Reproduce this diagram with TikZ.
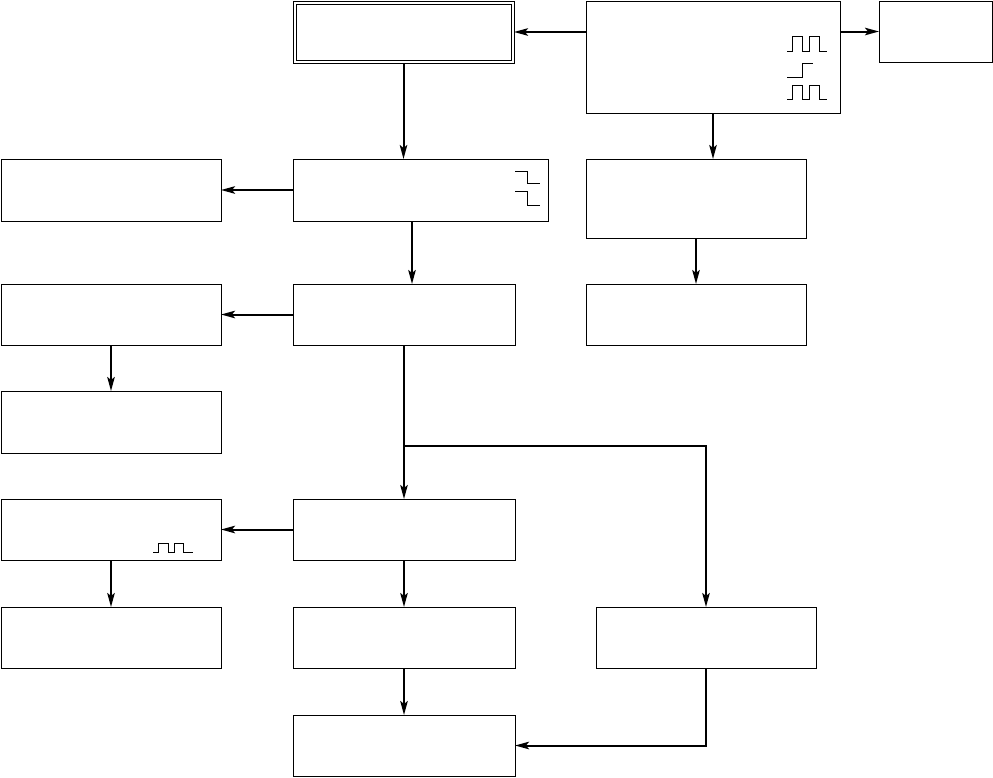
\documentclass[tikz,border=0pt]{standalone}
\usetikzlibrary{arrows.meta}
\begin{document}
\begin{tikzpicture}[x=1pt,y=-1pt,
  box/.style={draw,line width=1pt,inner sep=0pt,outer sep=0pt},
  conn/.style={line width=2pt,-{Stealth[length=14pt,width=7.5pt,inset=3pt]}},
  wave/.style={line width=1pt,line join=miter}]
\useasboundingbox (0,0) rectangle (993,777);
% boxes
\node[box,minimum width=221pt,minimum height=62pt] (T) at (403.5,32) {};
\draw[line width=1pt] ([shift={(3,3)}]T.north west) rectangle ([shift={(-3,-3)}]T.south east);
\node[box,minimum width=254pt,minimum height=112pt] (TR) at (713,57) {};
\node[box,minimum width=113pt,minimum height=61pt] (FR) at (935.5,31.5) {};
\node[box,minimum width=220pt,minimum height=62pt] (L2) at (111,190) {};
\node[box,minimum width=255pt,minimum height=62pt] (M2) at (420.5,190) {};
\node[box,minimum width=220pt,minimum height=79pt] (R2) at (696,198.5) {};
\node[box,minimum width=220pt,minimum height=61pt] (R3) at (696,314.5) {};
\node[box,minimum width=220pt,minimum height=61pt] (L3) at (111,314.5) {};
\node[box,minimum width=222pt,minimum height=61pt] (M3) at (404,314.5) {};
\node[box,minimum width=220pt,minimum height=62pt] (L4) at (111,422) {};
\node[box,minimum width=220pt,minimum height=61pt] (L5) at (111,529.5) {};
\node[box,minimum width=222pt,minimum height=61pt] (M5) at (404,529.5) {};
\node[box,minimum width=220pt,minimum height=61pt] (L6) at (111,637.5) {};
\node[box,minimum width=222pt,minimum height=61pt] (M6) at (404,637.5) {};
\node[box,minimum width=220pt,minimum height=61pt] (R6) at (706,637.5) {};
\node[box,minimum width=222pt,minimum height=61pt] (M7) at (404,745.5) {};
% waveforms
\draw[wave] (787,51) -- (792,51) -- (792,36) -- (802,36) -- (802,51) -- (809,51) -- (809,36) -- (819,36) -- (819,51) -- (827,51);
\draw[wave] (787,77) -- (802,77) -- (802,63) -- (813,63);
\draw[wave] (787,99) -- (792,99) -- (792,85) -- (802,85) -- (802,99) -- (809,99) -- (809,85) -- (819,85) -- (819,99) -- (827,99);
\draw[wave] (515,171) -- (527,171) -- (527,183) -- (540,183);
\draw[wave] (515,191) -- (527,191) -- (527,205) -- (540,205);
\draw[wave] (153,552) -- (158,552) -- (158,543) -- (168,543) -- (168,552) -- (174,552) -- (174,543) -- (183,543) -- (183,552) -- (193,552);
% connectors
\draw[conn] (TR.west |- T.east) -- (T.east);
\draw[conn] (TR.east |- FR.west) -- (FR.west);
\draw[conn] (TR.south) -- (TR.south |- R2.north);
\draw[conn] (R2.south) -- (R3.north);
\draw[conn] (T.south) -- (T.south |- M2.north);
\draw[conn] (M2.west) -- (L2.east);
\draw[conn] (M2.south -| 412,0) -- (M3.north -| 412,0);
\draw[conn] (M3.west) -- (L3.east);
\draw[conn] (L3.south) -- (L4.north);
\coordinate (J) at (404,446);
\draw[conn] (M3.south) -- (M5.north);
\draw[conn] (J) -| (R6.north);
\draw[conn] (M5.west) -- (L5.east);
\draw[conn] (L5.south) -- (L6.north);
\draw[conn] (M5.south) -- (M6.north);
\draw[conn] (M6.south) -- (M7.north);
\draw[conn] (R6.south) |- (M7.east);
\end{tikzpicture}
\end{document}
